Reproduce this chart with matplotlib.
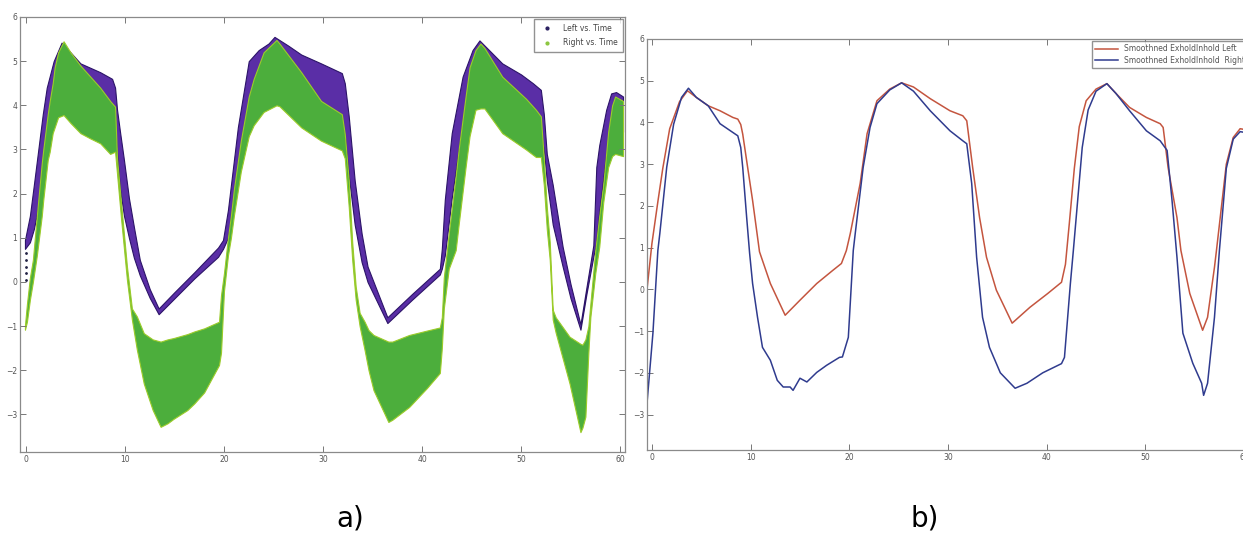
import numpy as np
import matplotlib
matplotlib.use("Agg")
import matplotlib.pyplot as plt
from matplotlib.lines import Line2D

# ---- a) raw breathing signal (band = spread of the sampled points) ----
left_t = [-0.1, 0.4, 0.8, 1.25, 1.7, 2.1, 2.8, 3.6, 4.5, 5.5, 7.5, 8.7, 9.0, 9.2, 9.5, 9.9,
          10.4, 10.9, 11.5, 12.5, 13.4, 15.0, 17.0, 19.4, 19.9, 20.4, 21.4, 22.5, 23.5, 24.5,
          25.1, 26.5, 27.8, 29.8, 31.9, 32.2, 32.6, 33.2, 33.9, 34.5, 36.5, 39.0, 41.8, 42.0,
          42.3, 43.0, 44.1, 45.1, 45.8, 48.1, 50.0, 51.2, 52.0, 52.3, 52.6, 53.2, 54.2, 55.0,
          56.0, 56.6, 57.3, 57.6, 57.9, 58.6, 59.1, 59.6, 60.3]
left_lo = [0.75, 0.9, 1.2, 1.7, 2.4, 2.9, 3.6, 4.0, 4.2, 4.2, 3.9, 3.7, 3.5, 2.9, 2.1, 1.5,
           1.0, 0.55, 0.15, -0.36, -0.73, -0.37, 0.08, 0.57, 0.75, 1.0, 2.4, 3.8, 4.2, 4.3,
           4.4, 4.4, 4.3, 4.0, 3.6, 3.3, 2.4, 1.3, 0.45, 0.0, -0.93, -0.4, 0.17, 0.3,
           0.6, 1.9, 3.6, 4.1, 4.3, 4.1, 3.7, 3.4, 3.3, 3.0, 2.3, 1.3, 0.35, -0.37,
           -1.08, -0.28, 0.57, 0.9, 1.6, 2.9, 3.3, 3.4, 3.4]
left_hi = [0.95, 1.5, 2.2, 3.0, 3.8, 4.4, 5.0, 5.42, 5.2, 4.95, 4.75, 4.6, 4.4, 3.9, 3.4, 2.76,
           1.9, 1.25, 0.5, -0.16, -0.6, -0.23, 0.22, 0.78, 0.95, 1.63, 3.5, 5.0, 5.25, 5.4,
           5.55, 5.35, 5.15, 4.95, 4.73, 4.5, 3.75, 2.3, 1.1, 0.35, -0.8, -0.27, 0.3, 0.75,
           1.86, 3.37, 4.65, 5.25, 5.47, 4.95, 4.7, 4.5, 4.35, 3.8, 2.9, 2.2, 0.8, -0.05,
           -0.96, -0.13, 0.83, 2.6, 3.1, 3.9, 4.27, 4.3, 4.2]
left_first_dots = [0.05, 0.2, 0.35, 0.5, 0.65]

right_t = [-0.1, 0.1, 0.4, 0.7, 1.1, 1.6, 1.75, 2.2, 2.4, 2.7, 2.9, 3.25, 3.8, 4.5, 5.5, 6.5,
           7.5, 8.5, 9.0, 9.2, 9.6, 10.2, 10.7, 11.2, 11.9, 12.8, 13.6, 14.3, 14.9, 16.3, 17.0,
           18.0, 19.5, 19.7, 20.0, 20.4, 20.7, 21.0, 21.7, 22.5, 23.0, 24.0, 25.3, 25.6, 27.8,
           29.8, 31.9, 32.2, 32.6, 32.95, 33.3, 33.7, 34.2, 34.6, 35.1, 36.6, 37.0, 38.7, 40.5,
           41.8, 42.0, 42.2, 42.7, 43.4, 43.7, 44.4, 44.8, 45.4, 45.9, 46.3, 48.1, 50.5, 51.5,
           52.0, 52.3, 52.6, 52.9, 53.2, 53.5, 54.9, 56.0, 56.2, 56.5, 56.8, 57.0, 57.5, 57.9,
           58.3, 58.8, 59.2, 59.5, 60.3]
right_lo = [-1.08, -0.9, -0.4, 0.0, 0.6, 1.5, 1.86, 2.76, 2.95, 3.37, 3.5, 3.73, 3.78, 3.6, 3.37, 3.25,
            3.14, 2.9, 2.95, 2.45, 1.45, 0.05, -0.85, -1.53, -2.3, -2.9, -3.28, -3.2, -3.1, -2.9, -2.75,
            -2.5, -1.88, -1.6, -0.2, 0.6, 1.0, 1.5, 2.5, 3.3, 3.55, 3.85, 4.0, 3.98, 3.5,
            3.2, 2.98, 2.8, 1.7, 0.5, -0.4, -1.0, -1.54, -2.0, -2.45, -3.17, -3.12, -2.83, -2.4,
            -2.06, -1.5, -0.6, 0.3, 0.72, 1.3, 2.6, 3.3, 3.9, 3.93, 3.93, 3.37, 3.0, 2.83,
            2.83, 2.2, 1.2, 0.5, -0.85, -1.15, -2.3, -3.4, -3.3, -3.05, -1.6, -0.8, 0.2, 0.8,
            1.8, 2.6, 2.85, 2.9, 2.85]
right_hi = [-0.98, -0.5, 0.1, 0.5, 1.5, 2.7, 3.0, 3.8, 4.1, 4.5, 4.86, 5.2, 5.45, 5.2, 4.9, 4.65,
            4.4, 4.1, 3.97, 2.8, 1.8, 0.35, -0.6, -0.78, -1.16, -1.3, -1.35, -1.3, -1.27, -1.18, -1.12,
            -1.05, -0.9, -0.3, 0.2, 1.0, 1.5, 2.1, 3.2, 4.2, 4.6, 5.2, 5.48, 5.4, 4.75,
            4.1, 3.8, 3.35, 2.3, 0.9, -0.1, -0.7, -0.9, -1.09, -1.2, -1.35, -1.35, -1.2, -1.1,
            -1.03, -0.8, 0.1, 1.1, 2.4, 3.0, 4.2, 4.86, 5.25, 5.4, 5.3, 4.65, 4.15, 3.9,
            3.75, 2.8, 1.7, 0.9, -0.63, -0.8, -1.24, -1.4, -1.42, -1.3, -1.0, -0.5, 0.72, 1.5,
            2.2, 3.4, 4.0, 4.2, 4.1]

# ---- b) smoothed signals ----
sm_left_t = [-0.5, 0.0, 0.6, 1.1, 1.8, 2.8, 3.6, 4.5, 5.7, 6.9, 8.2, 8.7, 9.0, 9.2, 9.7, 10.2,
             10.9, 12.0, 13.5, 15.0, 16.7, 18.3, 19.2, 19.7, 20.1, 21.1, 21.8, 22.8, 24.1, 25.3,
             26.5, 28.2, 30.2, 31.5, 31.9, 32.5, 33.2, 33.9, 34.9, 36.5, 38.3, 40.1, 41.5, 41.9,
             42.3, 42.8, 43.3, 44.0, 45.0, 46.1, 47.0, 48.4, 50.1, 51.5, 51.8, 52.3, 53.2, 53.6,
             54.5, 55.8, 56.3, 57.0, 57.2, 58.2, 58.9, 59.6, 60.3]
sm_left = [0.0, 1.1, 2.1, 2.9, 3.85, 4.5, 4.76, 4.6, 4.4, 4.28, 4.12, 4.08, 3.95, 3.72, 2.92, 2.13,
           0.9, 0.14, -0.62, -0.26, 0.14, 0.45, 0.62, 0.93, 1.34, 2.54, 3.73, 4.52, 4.8, 4.95,
           4.85, 4.57, 4.28, 4.16, 4.04, 2.92, 1.72, 0.77, -0.02, -0.81, -0.43, -0.1, 0.17, 0.6,
           1.6, 2.9, 3.9, 4.52, 4.8, 4.93, 4.7, 4.36, 4.12, 3.97, 3.88, 2.92, 1.72, 0.93,
           -0.1, -0.98, -0.67, 0.53, 0.93, 3.0, 3.64, 3.85, 3.82]
sm_right_t = [-0.5, 0.1, 0.6, 0.8, 1.5, 2.2, 3.0, 3.7, 4.5, 5.7, 6.9, 8.2, 8.7, 9.0, 9.2, 9.6,
              9.9, 10.2, 10.7, 11.2, 12.0, 12.7, 13.3, 14.0, 14.3, 15.0, 15.7, 16.7, 17.7, 19.0,
              19.3, 19.9, 20.4, 20.6, 21.4, 22.1, 22.8, 24.1, 25.3, 26.5, 28.2, 30.2, 31.5, 31.9,
              32.4, 32.9, 33.5, 34.2, 35.3, 36.8, 38.0, 39.6, 41.5, 41.8, 42.4, 42.7, 43.2, 43.6,
              44.2, 45.0, 46.1, 47.0, 48.4, 50.1, 51.5, 52.2, 52.7, 53.2, 53.8, 54.8, 55.7, 55.9,
              56.3, 57.0, 57.5, 58.2, 58.9, 59.6, 60.3]
sm_right = [-2.73, -1.05, 0.93, 1.34, 2.93, 3.96, 4.6, 4.82, 4.6, 4.4, 3.97, 3.76, 3.68, 3.4, 2.92, 1.72,
            0.86, 0.14, -0.67, -1.39, -1.7, -2.18, -2.34, -2.34, -2.42, -2.13, -2.22, -1.99, -1.82, -1.63,
            -1.62, -1.15, 0.93, 1.34, 2.92, 3.88, 4.45, 4.78, 4.95, 4.75, 4.28, 3.8, 3.56, 3.49,
            2.54, 0.77, -0.67, -1.39, -2.0, -2.37, -2.25, -2.0, -1.78, -1.63, 0.14, 0.93, 2.3, 3.4,
            4.3, 4.75, 4.93, 4.7, 4.28, 3.8, 3.56, 3.33, 2.13, 0.77, -1.05, -1.77, -2.25, -2.54,
            -2.25, -0.67, 0.93, 2.9, 3.6, 3.78, 3.75]

xticks = [0, 10, 20, 30, 40, 50, 60]
yticks = [-3, -2, -1, 0, 1, 2, 3, 4, 5, 6]

purple = '#5a2ea6'
green = '#4cae3c'


def style(ax):
    for s in ax.spines.values():
        s.set_color('#8a8a8a')
        s.set_linewidth(0.9)
    ax.set_xticks(xticks)
    ax.set_yticks(yticks)
    ax.tick_params(direction='in', length=4, width=0.7, color='#777777',
                   labelsize=5.5, labelcolor='#555555', top=True, right=True, pad=2)
    ax.set_ylim(-3.85, 6)


fig = plt.figure(figsize=(12.43, 5.35), dpi=100)

ax1 = fig.add_axes([20 / 1243, 1 - 452 / 535, 605 / 1243, 435 / 535])
ax1.fill_between(left_t, left_lo, left_hi, facecolor=purple, edgecolor='#2c1468', linewidth=0.8)
ax1.plot([0] * len(left_first_dots), left_first_dots, '.', color='#222244', ms=2)
ax1.fill_between(right_t, right_lo, right_hi, facecolor=green, edgecolor='#9ccc2a', linewidth=0.8)
ax1.set_xlim(-0.6, 60.5)
style(ax1)
h1 = [Line2D([], [], ls='none', marker='.', ms=4, color='#2a2060'),
      Line2D([], [], ls='none', marker='.', ms=4, color='#8cc63f')]
leg1 = ax1.legend(h1, ['Left vs. Time', 'Right vs. Time'], loc='upper right', fontsize=5.5,
                  fancybox=False, edgecolor='#777777', borderaxespad=0.3, handletextpad=1.0,
                  labelspacing=0.7, borderpad=0.6, handlelength=2.2)
for t in leg1.get_texts():
    t.set_color('#444444')

ax2 = fig.add_axes([647 / 1243, 1 - 450 / 535, 603 / 1243, 411 / 535])
ax2.plot(sm_left_t, sm_left, color='#c4553f', lw=1.1, label='Smoothned ExholdInhold Left')
ax2.plot(sm_right_t, sm_right, color='#2f3b8e', lw=1.1, label='Smoothned ExholdInhold  Right')
ax2.set_xlim(-0.5, 60.6)
style(ax2)
leg2 = ax2.legend(loc='upper right', fontsize=5.5, fancybox=False, edgecolor='#777777',
                  borderaxespad=0.3, handlelength=3, labelspacing=0.3, borderpad=0.4)
for t in leg2.get_texts():
    t.set_color('#555555')

lab_font = ['Liberation Sans Narrow', 'DejaVu Sans']
fig.text(350 / 1243, 1 - 519 / 535, 'a)', ha='center', va='center', fontsize=20, family=lab_font)
fig.text(925 / 1243, 1 - 519 / 535, 'b)', ha='center', va='center', fontsize=20, family=lab_font)

fig.savefig('out.png', dpi=100)
